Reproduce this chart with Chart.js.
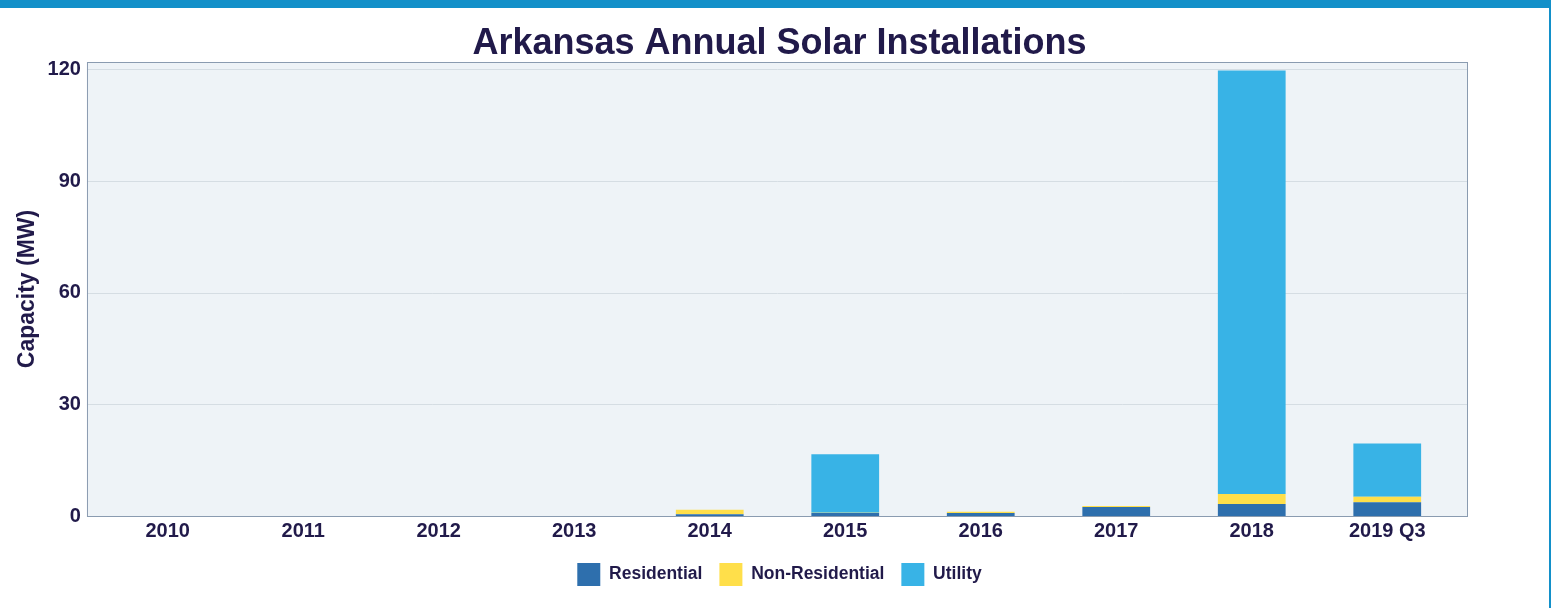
<!DOCTYPE html>
<html>
<head>
<meta charset="utf-8">
<script src="https://cdn.jsdelivr.net/npm/chart.js@4"></script>
<style>
  html, body { margin: 0; padding: 0; background: #fff; }
  #wrap { width: 1549px; height: 600px; border-top: 8px solid #1390c9; border-right: 2px solid #1390c9; position: relative; }
  canvas { display: block; }
</style>
</head>
<body>
<div id="wrap"><canvas id="grafico" width="1549" height="600"></canvas></div>
<script>
const years = ['2010', '2011', '2012', '2013', '2014', '2015', '2016', '2017', '2018', '2019 Q3'];
const residential = [0, 0, 0, 0, 0.5, 0.8, 0.8, 2.4, 3.2, 3.7];
const nonResidential = [0, 0, 0, 0, 1.2, 0.1, 0.35, 0.3, 2.7, 1.5];
const utility = [0, 0, 0, 0, 0, 15.7, 0, 0, 113.8, 14.3];
const yTicks = [0, 30, 60, 90, 120];

const textColor = '#211a4a';
const inset = 13; // el panel sobresale un poco del eje de categorias

// fondo, rejilla y borde del panel
const plotBg = {
    id: 'plotBg',
    beforeDatasetsDraw(chart) {
        const a = chart.chartArea;
        const c = chart.ctx;
        const y = chart.scales.y;
        c.save();
        c.fillStyle = '#eef3f7';
        c.fillRect(a.left - inset, a.top, a.right - a.left + inset * 2, a.bottom - a.top);
        c.strokeStyle = '#d5dde3';
        c.lineWidth = 1;
        yTicks.forEach(v => {
            const py = Math.round(y.getPixelForValue(v)) + 0.5;
            c.beginPath();
            c.moveTo(a.left - inset, py);
            c.lineTo(a.right + inset, py);
            c.stroke();
        });
        c.restore();
    },
    afterDatasetsDraw(chart) {
        const a = chart.chartArea;
        const c = chart.ctx;
        c.save();
        c.strokeStyle = '#8a9bb0';
        c.lineWidth = 1;
        c.strokeRect(a.left - inset + 0.5, a.top + 0.5, a.right - a.left + inset * 2 - 1, a.bottom - a.top);
        c.restore();
    }
};

// eje vacio, solo ocupa sitio
const spacer = (pos, w, weight) => ({
    position: pos,
    weight: weight,
    min: 0,
    max: 122,
    grid: { display: false, drawTicks: false },
    border: { display: false },
    ticks: { display: false },
    afterFit(axis) { axis.width = w; }
});

const ctx = document.getElementById('grafico').getContext('2d');
const myChart = new Chart(ctx, {
    type: 'bar',
    data: {
        labels: years,
        datasets: [
            { label: 'Residential', data: residential, backgroundColor: '#2e6fad' },
            { label: 'Non-Residential', data: nonResidential, backgroundColor: '#ffdf4a' },
            { label: 'Utility', data: utility, backgroundColor: '#38b3e6' }
        ]
    },
    options: {
        responsive: false,
        animation: false,
        layout: { padding: { left: 10, right: 0, top: 0, bottom: 12 } },
        datasets: { bar: { categoryPercentage: 1, barPercentage: 0.5 } },
        plugins: {
            title: {
                display: true,
                text: 'Arkansas Annual Solar Installations',
                color: textColor,
                font: { family: 'Liberation Sans', size: 36, weight: 'bold', lineHeight: 1 },
                padding: { top: 18, bottom: 0 }
            },
            legend: {
                position: 'bottom',
                labels: {
                    color: textColor,
                    font: { family: 'Liberation Sans', size: 17.5, weight: 'bold' },
                    boxWidth: 23,
                    boxHeight: 23,
                    padding: 17
                }
            },
            tooltip: { enabled: false }
        },
        scales: {
            x: {
                stacked: true,
                grid: { display: false, drawTicks: false },
                border: { display: false },
                ticks: {
                    color: textColor,
                    font: { family: 'Liberation Sans', size: 20, weight: 'bold' },
                    padding: 3
                }
            },
            y: {
                stacked: true,
                min: 0,
                max: 122,
                afterBuildTicks(axis) {
                    axis.ticks = yTicks.map(v => ({ value: v }));
                },
                grid: { display: false, drawTicks: false },
                border: { display: false },
                ticks: {
                    color: textColor,
                    font: { family: 'Liberation Sans', size: 20, weight: 'bold' },
                    padding: 6
                },
                title: {
                    display: true,
                    text: 'Capacity (MW)',
                    color: textColor,
                    font: { family: 'Liberation Sans', size: 23, weight: 'bold' },
                    padding: { top: 4, bottom: 0 }
                }
            },
            yInset: spacer('left', inset, -1),
            yRight: spacer('right', 81 + inset, 0)
        }
    },
    plugins: [plotBg]
});
</script>
</body>
</html>
